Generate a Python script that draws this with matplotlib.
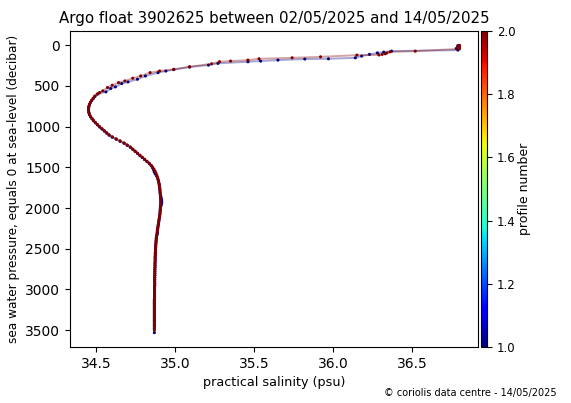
import matplotlib
matplotlib.use("Agg")
import matplotlib.pyplot as plt

title = "Argo float 3902625 between 02/05/2025 and 14/05/2025"
xlabel = "practical salinity (psu)"
ylabel = "sea water pressure, equals 0 at sea-level (decibar)"
cbar_label = "profile number"
footer = "\u00a9 coriolis data centre - 14/05/2025"
xticks = [34.5, 35.0, 35.5, 36.0, 36.5]
yticks = [0, 500, 1000, 1500, 2000, 2500, 3000, 3500]
cticks = [1.0, 1.2, 1.4, 1.6, 1.8, 2.0]

# Profile 1 (blue)
sal1 = [36.79, 36.79, 36.78, 36.79, 36.37, 36.32, 36.28, 36.23, 36.18, 36.14, 35.97, 35.82,
        35.65, 35.54, 35.46, 35.27, 35.21, 35.09, 34.99, 34.94, 34.89, 34.81, 34.76, 34.70,
        34.66, 34.62, 34.59, 34.56, 34.51,
        34.49, 34.48, 34.47, 34.462, 34.456, 34.452, 34.45, 34.45, 34.452, 34.456, 34.463,
        34.472, 34.482, 34.494, 34.507,
        34.52, 34.535, 34.55, 34.565, 34.58, 34.60, 34.625, 34.65, 34.675, 34.695, 34.715,
        34.73, 34.745, 34.76, 34.775, 34.79, 34.805, 34.82, 34.835, 34.847,
        34.855, 34.862, 34.866, 34.872, 34.880, 34.887, 34.891, 34.894, 34.897, 34.899,
        34.901, 34.902, 34.903, 34.905, 34.908, 34.911, 34.913, 34.914, 34.912, 34.908,
        34.905, 34.904, 34.903, 34.902, 34.90, 34.898, 34.896, 34.894, 34.892, 34.89,
        34.888, 34.886, 34.887, 34.884, 34.88, 34.879, 34.878, 34.877, 34.876, 34.875,
        34.874, 34.874, 34.873, 34.873, 34.872, 34.872, 34.872, 34.871, 34.871, 34.871,
        34.870, 34.870, 34.870, 34.870, 34.869, 34.869, 34.869, 34.869, 34.869, 34.868,
        34.868, 34.868, 34.868, 34.868, 34.868, 34.867, 34.867, 34.867, 34.867, 34.867,
        34.867, 34.867, 34.867, 34.867, 34.867, 34.867, 34.867, 34.867, 34.867, 34.867,
        34.867]
pres1 = [5, 20, 40, 60, 73, 85, 95, 113, 134, 155, 167, 170,
         183, 195, 203, 223, 244, 268, 300, 317, 337, 378, 418, 451,
         471, 512, 532, 573, 598,
         630, 655, 680, 705, 730, 755, 780, 805, 830, 855, 880,
         905, 930, 955, 980,
         1005, 1030, 1055, 1080, 1105, 1130, 1155, 1180, 1205, 1230, 1255,
         1280, 1305, 1330, 1355, 1380, 1405, 1430, 1455, 1480,
         1505, 1530, 1555, 1580, 1605, 1630, 1655, 1680, 1705, 1730,
         1755, 1780, 1805, 1830, 1855, 1880, 1905, 1930, 1955, 1980,
         2005, 2030, 2055, 2080, 2105, 2130, 2155, 2180, 2205, 2230,
         2255, 2280, 2305, 2330, 2355, 2380, 2405, 2430, 2455, 2480,
         2505, 2530, 2555, 2580, 2605, 2630, 2655, 2680, 2705, 2730,
         2755, 2780, 2805, 2830, 2855, 2880, 2905, 2930, 2955, 2980,
         3005, 3030, 3055, 3080, 3105, 3130, 3155, 3180, 3205, 3230,
         3255, 3280, 3305, 3330, 3355, 3380, 3405, 3430, 3455, 3480,
         3530]

# Profile 2 (red)
sal2 = [36.80, 36.80, 36.79, 36.80, 36.79, 36.80, 36.52, 36.36, 36.34, 36.33, 36.31, 36.29,
        36.15, 35.92, 35.74, 35.53, 35.46, 35.35, 35.28, 35.23, 35.09, 34.99, 34.90, 34.84,
        34.78, 34.73, 34.68, 34.64, 34.60, 34.57, 34.54, 34.52,
        34.505, 34.49, 34.48, 34.47, 34.462, 34.456, 34.452, 34.45, 34.45, 34.452, 34.456,
        34.463, 34.472, 34.482, 34.494, 34.507,
        34.52, 34.535, 34.55, 34.565, 34.58, 34.60, 34.625, 34.65, 34.675, 34.695, 34.715,
        34.73, 34.745, 34.76, 34.775, 34.79, 34.805, 34.82, 34.835, 34.847,
        34.857, 34.865, 34.872, 34.878, 34.883, 34.887, 34.891, 34.894, 34.897, 34.899,
        34.901, 34.902, 34.903, 34.904, 34.905, 34.905, 34.906, 34.906, 34.906, 34.905,
        34.905, 34.904, 34.903, 34.902, 34.90, 34.898, 34.896, 34.894, 34.892, 34.89,
        34.888, 34.886, 34.884, 34.882, 34.88, 34.879, 34.878, 34.877, 34.876, 34.875,
        34.874, 34.874, 34.873, 34.873, 34.872, 34.872, 34.872, 34.871, 34.871, 34.871,
        34.870, 34.870, 34.870, 34.870, 34.869, 34.869, 34.869, 34.869, 34.869, 34.868,
        34.868, 34.868, 34.868, 34.868, 34.868, 34.867, 34.867, 34.867, 34.867, 34.867,
        34.867, 34.867, 34.867, 34.867, 34.867, 34.867, 34.867, 34.867, 34.867, 34.867,
        34.867]
pres2 = [2, 8, 15, 25, 35, 45, 73, 82, 95, 105, 113, 120,
         122, 143, 155, 167, 183, 195, 203, 228, 265, 296, 317, 337,
         378, 406, 439, 460, 492, 520, 561, 581,
         600, 625, 650, 675, 700, 725, 750, 775, 800, 825, 850,
         875, 900, 925, 950, 975,
         1000, 1025, 1050, 1075, 1100, 1125, 1150, 1175, 1200, 1225, 1250,
         1275, 1300, 1325, 1350, 1375, 1400, 1425, 1450, 1475,
         1500, 1525, 1550, 1575, 1600, 1625, 1650, 1675, 1700, 1725,
         1750, 1775, 1800, 1825, 1850, 1875, 1900, 1925, 1950, 1975,
         2000, 2025, 2050, 2075, 2100, 2125, 2150, 2175, 2200, 2225,
         2250, 2275, 2300, 2325, 2350, 2375, 2400, 2425, 2450, 2475,
         2500, 2525, 2550, 2575, 2600, 2625, 2650, 2675, 2700, 2725,
         2750, 2775, 2800, 2825, 2850, 2875, 2900, 2925, 2950, 2975,
         3000, 3025, 3050, 3075, 3100, 3125, 3150, 3175, 3200, 3225,
         3250, 3275, 3300, 3325, 3350, 3375, 3400, 3425, 3450, 3475,
         3500]

profiles = [(1, sal1, pres1), (2, sal2, pres2)]

fig = plt.figure(figsize=(5.71, 4.03), dpi=100)
ax = fig.add_axes([70/571, 56/403, 408/571, 316/403])
cax = fig.add_axes([481/571, 56/403, 6/571, 316/403])

cmap = plt.get_cmap("jet")
norm = matplotlib.colors.Normalize(vmin=1, vmax=2)
sc = None
for num, s, p in profiles:
    col = cmap(norm(num))
    ax.plot(s, p, color=col, lw=1.4, alpha=0.35, zorder=num)
    sc = ax.scatter(s, p, c=[num] * len(s), cmap=cmap, norm=norm, s=5, lw=0, zorder=num + 0.5)

ax.invert_yaxis()
ax.set_xticks(xticks)
ax.set_yticks(yticks)
ax.set_title(title, fontsize=10.8)
ax.set_xlabel(xlabel, fontsize=9.2)
ax.set_ylabel(ylabel, fontsize=8.7)

cb = fig.colorbar(sc, cax=cax)
cb.set_ticks(cticks)
cb.ax.tick_params(labelsize=8.5)
cb.set_label(cbar_label, fontsize=9, labelpad=2)
cb.outline.set_linewidth(0.8)

fig.text(557/571, 1 - 393/403, footer, ha="right", va="center", fontsize=7)

fig.savefig("out.png", dpi=100)
